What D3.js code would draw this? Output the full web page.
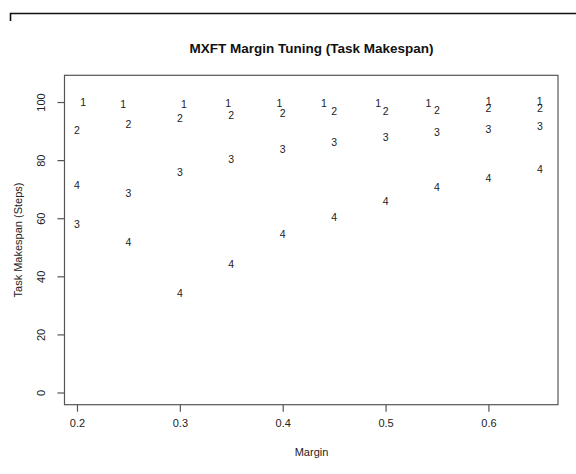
<!DOCTYPE html>
<html>
<head>
<meta charset="utf-8">
<script src="https://cdn.jsdelivr.net/npm/d3@7"></script>
<style>
  html, body { margin: 0; padding: 0; background: #fff; }
  svg { display: block; }
  text { font-family: "Liberation Sans", Arial, Helvetica, sans-serif; }
</style>
</head>
<body>
<svg id="chart" width="576" height="474"></svg>
<script>
// Margin settings tried for each task
const margins = [0.2, 0.25, 0.3, 0.35, 0.4, 0.45, 0.5, 0.55, 0.6, 0.65];
// Task 1 is drawn slightly offset so its labels do not sit on top of task 2
const task1X = [0.2061, 0.2450, 0.3039, 0.3470, 0.3969, 0.4400, 0.4928, 0.5417, 0.6003, 0.6499];
const task1 = [100.0, 99.4, 99.4, 99.7, 99.7, 99.7, 99.6, 99.6, 100.3, 100.3];
const task2 = [90.4, 92.5, 94.4, 95.3, 96.1, 96.7, 97.0, 97.2, 97.8, 98.0];
const task3 = [58.0, 68.6, 76.0, 80.4, 83.8, 86.0, 87.8, 89.6, 90.7, 91.8];
const task4 = [71.3, 51.6, 34.1, 44.2, 54.4, 60.5, 65.7, 70.5, 73.7, 76.9];
const xTicks = [0.2, 0.3, 0.4, 0.5, 0.6];
const yTicks = [0, 20, 40, 60, 80, 100];
const yLimits = [0, 105];

const series = [
  { label: "1", xs: task1X, ys: task1 },
  { label: "2", xs: margins, ys: task2 },
  { label: "3", xs: margins, ys: task3 },
  { label: "4", xs: margins, ys: task4 }
];

const svg = d3.select("#chart");
const plot = { left: 65, right: 558, top: 75.3, bottom: 404.7 };

// 4% padding on both axes, like base R graphics
function pad(ext) {
  const d = (ext[1] - ext[0]) * 0.04;
  return [ext[0] - d, ext[1] + d];
}

const x = d3.scaleLinear().domain(pad(d3.extent(task1X))).range([plot.left, plot.right]);
const y = d3.scaleLinear().domain(pad(yLimits)).range([plot.bottom, plot.top]);

const axisColor = "#555";

// Frame line at the top-left of the page
svg.append("path")
  .attr("d", "M10.5,21 V13.5 H576")
  .attr("fill", "none")
  .attr("stroke", "#111")
  .attr("stroke-width", 1.6);

// Plot box
svg.append("rect")
  .attr("x", plot.left - 0.5)
  .attr("y", plot.top)
  .attr("width", plot.right - plot.left + 0.5)
  .attr("height", plot.bottom - plot.top)
  .attr("fill", "none")
  .attr("stroke", axisColor)
  .attr("stroke-width", 1.2);

// X axis
const gx = svg.append("g")
  .attr("transform", `translate(0,${plot.bottom})`)
  .call(d3.axisBottom(x).tickValues(xTicks).tickFormat(d3.format(".1f")).tickSize(7).tickSizeOuter(0).tickPadding(8));
gx.select(".domain").remove();
gx.selectAll(".tick line").attr("stroke", axisColor).attr("stroke-width", 1.2);
gx.selectAll(".tick text").attr("font-size", 11).attr("fill", "#222");

// Y axis with rotated labels
const gy = svg.append("g")
  .attr("transform", `translate(${plot.left - 0.5},0)`)
  .call(d3.axisLeft(y).tickValues(yTicks).tickSize(7).tickSizeOuter(0));
gy.select(".domain").remove();
gy.selectAll(".tick line").attr("stroke", axisColor).attr("stroke-width", 1.2);
gy.selectAll(".tick text")
  .attr("font-size", 11)
  .attr("fill", "#222")
  .attr("x", null).attr("dy", null)
  .attr("text-anchor", "middle")
  .attr("transform", "translate(-23,0) rotate(-90)")
  .attr("dy", "0.35em");

// Task labels plotted as text marks
series.forEach(s => {
  svg.append("g").selectAll("text")
    .data(s.ys.map((v, i) => ({ x: s.xs[i], y: v })))
    .join("text")
    .attr("x", d => x(d.x))
    .attr("y", d => y(d.y))
    .attr("dy", "0.36em")
    .attr("text-anchor", "middle")
    .attr("font-size", 10.5)
    .attr("fill", "#222")
    .text(s.label);
});

// Title and axis titles
svg.append("text")
  .attr("x", (plot.left + plot.right) / 2)
  .attr("y", 53)
  .attr("text-anchor", "middle")
  .attr("font-size", 13.5)
  .attr("font-weight", "bold")
  .attr("fill", "#111")
  .text("MXFT Margin Tuning (Task Makespan)");

svg.append("text")
  .attr("x", (plot.left + plot.right) / 2)
  .attr("y", 456)
  .attr("text-anchor", "middle")
  .attr("font-size", 11)
  .attr("fill", "#222")
  .text("Margin");

svg.append("text")
  .attr("transform", `translate(22,${(plot.top + plot.bottom) / 2}) rotate(-90)`)
  .attr("text-anchor", "middle")
  .attr("font-size", 11)
  .attr("fill", "#222")
  .text("Task Makespan (Steps)");
</script>
</body>
</html>
